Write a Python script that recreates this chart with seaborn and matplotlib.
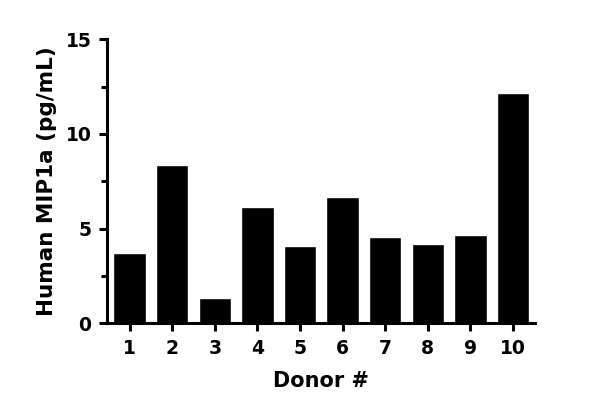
import matplotlib
matplotlib.use("Agg")
import matplotlib.pyplot as plt
import seaborn as sns
import pandas as pd
from matplotlib.ticker import MultipleLocator

donors = ["1", "2", "3", "4", "5", "6", "7", "8", "9", "10"]
mip1a = [3.70, 8.36, 1.32, 6.16, 4.10, 6.69, 4.58, 4.19, 4.68, 12.18]

df = pd.DataFrame({"Donor": donors, "MIP1a": mip1a})

sns.set_style("ticks")
plt.rcParams["font.family"] = ["DejaVu Sans"]
plt.rcParams["font.weight"] = "bold"
plt.rcParams["text.color"] = "black"
plt.rcParams["axes.labelcolor"] = "black"
plt.rcParams["xtick.color"] = "black"
plt.rcParams["ytick.color"] = "black"

fig = plt.figure(figsize=(6, 4.18), dpi=100)
ax = fig.add_axes([0.178, 0.2266, 0.714, 0.6794])

sns.barplot(data=df, x="Donor", y="MIP1a", color="black", width=0.76,
            saturation=1, ax=ax)

ax.set_ylim(0, 15)
ax.set_xlim(-0.535, 9.52)
ax.yaxis.set_major_locator(MultipleLocator(5))
ax.yaxis.set_minor_locator(MultipleLocator(2.5))

for s in ["top", "right"]:
    ax.spines[s].set_visible(False)
for s in ["left", "bottom"]:
    ax.spines[s].set_linewidth(2.2)
    ax.spines[s].set_color("black")

ax.tick_params(axis="both", which="major", length=6, width=2.2,
               colors="black", labelsize=13.5, pad=5)
ax.tick_params(axis="y", which="minor", length=4, width=2.2, colors="black")
for lbl in ax.get_xticklabels() + ax.get_yticklabels():
    lbl.set_fontweight("bold")

ax.set_xlabel("Donor #", fontsize=15, fontweight="bold", labelpad=10,
              color="black")
ax.set_ylabel("Human MIP1a (pg/mL)", fontsize=15.5, fontweight="bold",
              labelpad=6, color="black")

fig.savefig("out.png", dpi=100)
